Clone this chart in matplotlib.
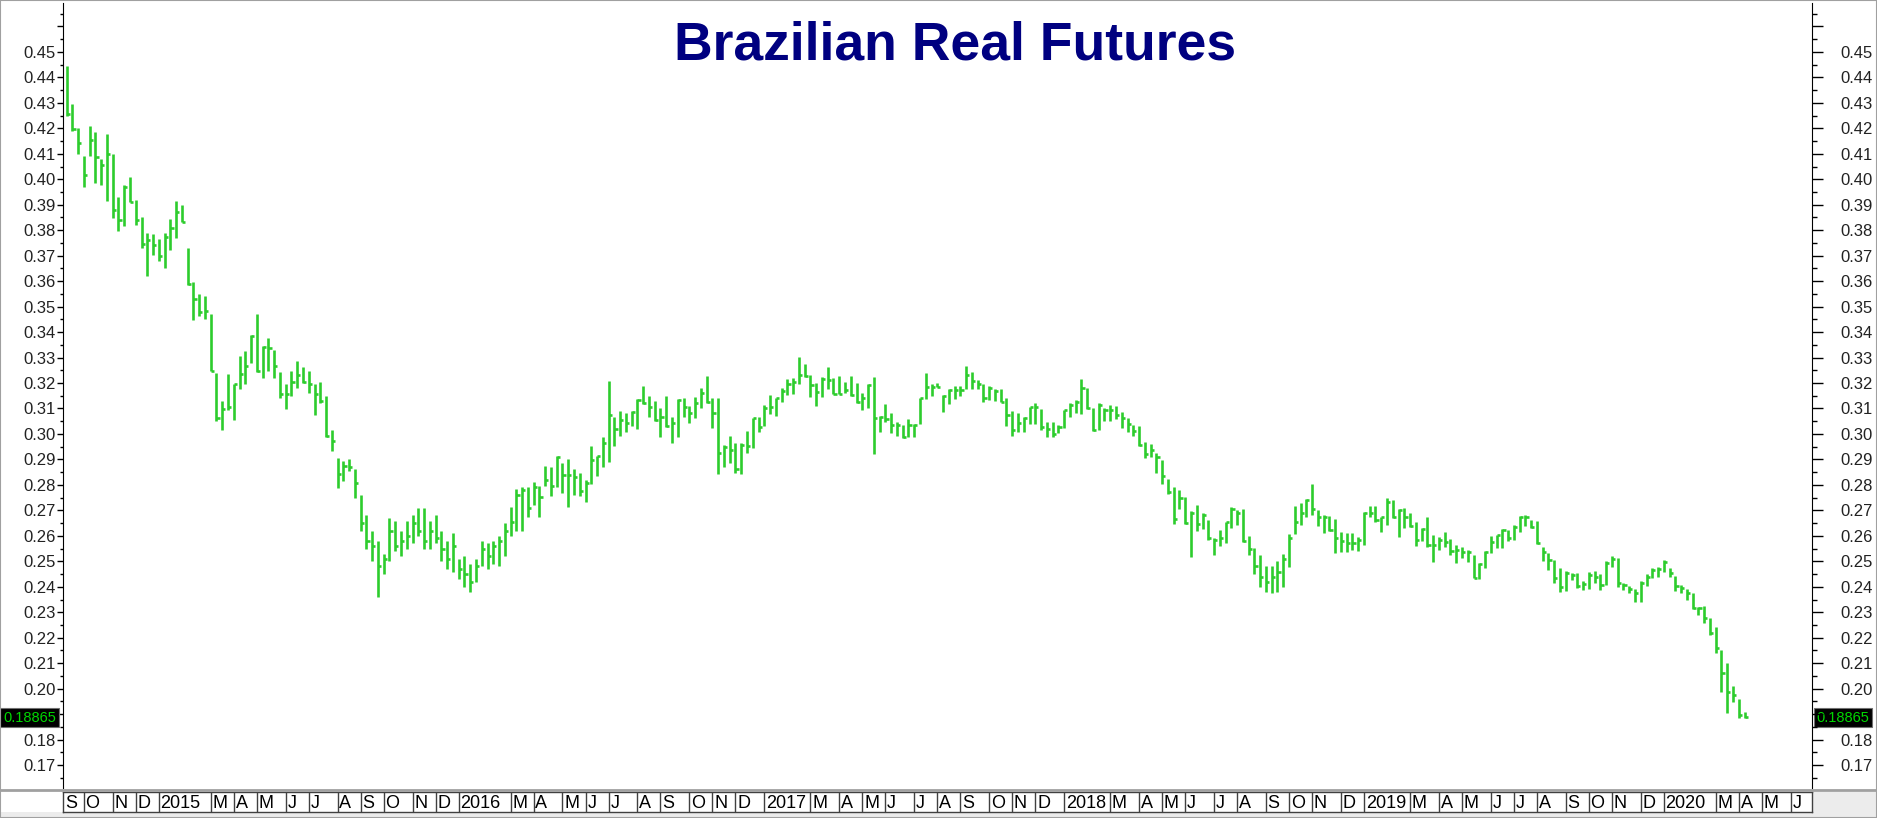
import numpy as np
import pandas as pd
import matplotlib
matplotlib.use("Agg")
import matplotlib.pyplot as plt
from matplotlib.patches import Rectangle
from matplotlib.lines import Line2D
from matplotlib.ticker import FixedLocator, FuncFormatter

plt.rcParams['font.family'] = ['Liberation Sans', 'DejaVu Sans']

# weekly bars, dated by the Friday that ends the week
first_week = '2014-09-12'
last_price = 0.18865
title = 'Brazilian Real Futures'

high = [
    .4446, .4297, .4202, .4092, .4209, .4185, .4081, .4179, .4101, .3929,
    .3979, .4010, .3920, .3851, .3789, .3784, .3764, .3789, .3842, .3914,
    .3897, .3730, .3598, .3548, .3542, .3470, .3240, .3129, .3234, .3195,
    .3305, .3325, .3390, .3470, .3344, .3377, .3331, .3243, .3197, .3247,
    .3286, .3262, .3247, .3197, .3204, .3149, .3016, .2904, .2895, .2902,
    .2863, .2762, .268, .262, .258, .253, .267, .266, .262, .266,
    .268, .271, .271, .266, .268, .262, .258, .261, .251, .252,
    .249, .251, .258, .257, .258, .260, .265, .2714, .2783, .2793,
    .2793, .2813, .2797, .2876, .2869, .2915, .2887, .2900, .2861, .2845,
    .2819, .2954, .2915, .2989, .3209, .3068, .3092, .3084, .3092, .3136,
    .3190, .3150, .3131, .3103, .3150, .3068, .3137, .3140, .3110, .3144,
    .3179, .3228, .3143, .3143, .2957, .2993, .2963, .2963, .3012, .3061,
    .3068, .3114, .3153, .3143, .3179, .3215, .3219, .3304, .3274, .3232,
    .3199, .3225, .3264, .3219, .3228, .3205, .3228, .3199, .3162, .3195,
    .3225, .3072, .3116, .3084, .3048, .3035, .3057, .3041, .3140, .3240,
    .3198, .3201, .3153, .3175, .3189, .3189, .3266, .3244, .3211, .3196,
    .3188, .3175, .3175, .3140, .3090, .3081, .3068, .3107, .3120, .3098,
    .3045, .3045, .3035, .3096, .3120, .3133, .3214, .3179, .3100, .3120,
    .3100, .3113, .3109, .3087, .3061, .3037, .3032, .2969, .2959, .2927,
    .2897, .2825, .2790, .2779, .2751, .2698, .2723, .2690, .2662, .2590,
    .2622, .2655, .2714, .2701, .2707, .2599, .2554, .2525, .2480, .2480,
    .2500, .2530, .2609, .2717, .2727, .2743, .2802, .2701, .2682, .2679,
    .2665, .2616, .2610, .2610, .2597, .2692, .2717, .2717, .2675, .2747,
    .2741, .2704, .2708, .2691, .2656, .2630, .2673, .2603, .2597, .2614,
    .2586, .2564, .2555, .2544, .2525, .2492, .2540, .2599, .2603, .2626,
    .2623, .2643, .2679, .2682, .2662, .2658, .2555, .2534, .2505, .2472,
    .2463, .2455, .2455, .2424, .2459, .2463, .2450, .2503, .2521, .2512,
    .2413, .2403, .2390, .2424, .2450, .2475, .2479, .2505, .2472, .2444,
    .2407, .2390, .2377, .2322, .2324, .2276, .2241, .2152, .2102, .2010,
    .1959, .1907,
]
low = [
    .4250, .4189, .4101, .3968, .4092, .3984, .3979, .3914, .3847, .3797,
    .3816, .3912, .3819, .3730, .3621, .3702, .3678, .3652, .3721, .3769,
    .3834, .3585, .3446, .3464, .3451, .3247, .3051, .3016, .3093, .3054,
    .3175, .3195, .3279, .3243, .3221, .3249, .3221, .3142, .3099, .3151,
    .3181, .3201, .3162, .3074, .3123, .2990, .2934, .2787, .2817, .2856,
    .2748, .2620, .255, .250, .236, .245, .250, .254, .252, .255,
    .257, .260, .255, .255, .257, .250, .247, .246, .243, .240,
    .238, .242, .248, .247, .249, .248, .252, .2600, .2620, .2620,
    .2673, .2721, .2673, .2796, .2756, .2793, .2769, .2712, .2760, .2756,
    .2731, .2803, .2836, .2869, .2891, .2953, .2992, .3006, .3031, .3018,
    .3118, .3068, .3052, .2989, .3029, .2963, .2989, .3068, .3042, .3061,
    .3101, .3123, .3022, .2841, .2872, .2887, .2848, .2841, .2927, .2944,
    .3009, .3031, .3078, .3071, .3127, .3153, .3156, .3195, .3225, .3147,
    .3111, .3147, .3175, .3156, .3156, .3162, .3150, .3120, .3094, .3101,
    .2920, .3006, .3046, .3005, .2992, .2985, .2989, .2989, .3041, .3137,
    .3149, .3183, .3085, .3116, .3137, .3149, .3175, .3175, .3176, .3124,
    .3133, .3130, .3126, .3031, .2992, .3009, .3006, .3041, .3041, .3015,
    .2989, .2989, .3002, .3022, .3067, .3083, .3077, .3098, .3013, .3015,
    .3052, .3052, .3057, .3024, .3009, .2993, .2954, .2904, .2908, .2848,
    .2802, .2766, .2648, .2707, .2648, .2518, .2620, .2625, .2583, .2524,
    .2561, .2570, .2629, .2642, .2577, .2524, .2450, .2400, .2380, .2375,
    .2380, .2400, .2478, .2609, .2642, .2675, .2681, .2638, .2610, .2619,
    .2531, .2535, .2535, .2544, .2542, .2564, .2675, .2656, .2614, .2643,
    .2669, .2597, .2630, .2636, .2560, .2581, .2558, .2499, .2544, .2558,
    .2525, .2492, .2512, .2499, .2433, .2429, .2472, .2531, .2554, .2551,
    .2581, .2584, .2614, .2639, .2630, .2568, .2502, .2466, .2413, .2381,
    .2385, .2426, .2394, .2387, .2390, .2413, .2387, .2407, .2479, .2400,
    .2387, .2374, .2341, .2341, .2403, .2433, .2440, .2459, .2440, .2385,
    .2374, .2348, .2311, .2289, .2256, .2211, .2139, .1988, .1905, .1949,
    .1883, .1883,
]
close = [
    .4258, .4196, .4143, .4016, .4154, .4089, .4055, .4098, .3880, .3841,
    .3968, .3912, .3841, .3747, .3763, .3743, .3698, .3773, .3810, .3871,
    .3834, .3589, .3529, .3478, .3483, .3249, .3064, .3099, .3106, .3195,
    .3236, .3266, .3383, .3247, .3340, .3338, .3266, .3158, .3155, .3204,
    .3230, .3204, .3197, .3155, .3129, .2993, .2973, .2843, .2876, .2869,
    .2807, .2650, .258, .256, .248, .251, .262, .256, .258, .260,
    .265, .262, .258, .262, .259, .255, .251, .256, .247, .245,
    .242, .248, .255, .252, .256, .258, .262, .2653, .2760, .2780,
    .2708, .2790, .2754, .2819, .2796, .2911, .2839, .2839, .2830, .2777,
    .2806, .2898, .2913, .2963, .3074, .3019, .3055, .3044, .3088, .3133,
    .3123, .3107, .3055, .3068, .3031, .3042, .3133, .3105, .3084, .3120,
    .3160, .3127, .3084, .2924, .2948, .2937, .2862, .2957, .2954, .3061,
    .3026, .3101, .3107, .3143, .3170, .3196, .3203, .3232, .3228, .3192,
    .3164, .3215, .3212, .3157, .3157, .3173, .3153, .3124, .3140, .3192,
    .3061, .3068, .3057, .3035, .3035, .2989, .3035, .3035, .3140, .3183,
    .3185, .3185, .3149, .3172, .3172, .3172, .3231, .3209, .3198, .3140,
    .3179, .3170, .3126, .3074, .3015, .3044, .3064, .3104, .3107, .3028,
    .3018, .2999, .3028, .3094, .3113, .3126, .3179, .3100, .3015, .3113,
    .3094, .3094, .3074, .3061, .3041, .3013, .2956, .2923, .2937, .2910,
    .2834, .2773, .2668, .2747, .2652, .2690, .2648, .2681, .2590, .2583,
    .2590, .2655, .2707, .2688, .2580, .2550, .2480, .2440, .2420, .2440,
    .2460, .2510, .2590, .2655, .2688, .2740, .2707, .2675, .2675, .2623,
    .2590, .2581, .2573, .2573, .2584, .2691, .2691, .2662, .2675, .2734,
    .2675, .2702, .2675, .2639, .2584, .2627, .2564, .2564, .2584, .2577,
    .2542, .2544, .2538, .2538, .2436, .2489, .2538, .2577, .2603, .2623,
    .2590, .2636, .2673, .2673, .2636, .2571, .2538, .2505, .2433, .2400,
    .2455, .2446, .2403, .2411, .2446, .2440, .2407, .2495, .2508, .2413,
    .2407, .2390, .2374, .2413, .2440, .2466, .2470, .2499, .2453, .2404,
    .2394, .2374, .2315, .2315, .2276, .2220, .2158, .2060, .1988, .1975,
    .1896, .1890,
]

month_letters = ['J', 'F', 'M', 'A', 'M', 'J', 'J', 'A', 'S', 'O', 'N', 'D']

W, H = 1877, 818
fig = plt.figure(figsize=(W / 100, H / 100), dpi=100)


def px_box(l, t, r, b):
    return [l / W, 1 - b / H, (r - l) / W, (b - t) / H]


green = '#2dcc2d'
ax = fig.add_axes(px_box(63, 3, 1812, 788))
x = np.arange(len(close))
ax.vlines(x, low, high, color=green, lw=1.9)
ax.hlines(close, x, x + 0.55, color=green, lw=1.9)
ax.set_xlim(-0.62, 302.7)
ax.set_ylim(0.161, 0.4692)
ax.set_xticks([])

major = np.round(np.arange(0.17, 0.4601, 0.01), 3)
minor = np.round(np.arange(0.165, 0.4651, 0.01), 3)
# no label above 0.45, and none where the price flag sits
fmt = FuncFormatter(lambda v, p: f'{v:.2f}' if v < 0.455 and abs(v - 0.19) > 0.001 else '')

ax2 = ax.twinx()
ax2.set_ylim(ax.get_ylim())
for a in (ax, ax2):
    a.yaxis.set_major_locator(FixedLocator(major))
    a.yaxis.set_minor_locator(FixedLocator(minor))
    a.yaxis.set_major_formatter(fmt)
    for s in ('top', 'bottom'):
        a.spines[s].set_visible(False)
ax.spines['right'].set_visible(False)
ax2.spines['left'].set_visible(False)
ax.tick_params(axis='y', which='major', direction='out', length=4.5, width=1,
               labelsize=12, pad=0.5, labelcolor='#222222')
ax.tick_params(axis='y', which='minor', direction='out', length=2.4, width=1)
ax2.tick_params(axis='y', which='major', direction='out', length=8, width=1,
                labelsize=12, pad=12.5, labelcolor='#222222')
ax2.tick_params(axis='y', which='minor', direction='out', length=3.6, width=1)

# price flag on both axes
for xp in (29.5, 1843):
    ax.annotate(f'{last_price:.5f}', xy=(xp, last_price),
                xycoords=('figure pixels', 'data'), ha='center', va='center',
                fontsize=10.5, color='#00d800', annotation_clip=False,
                bbox=dict(boxstyle='square,pad=0.18', fc='black', ec='#707070', lw=0.8))

# month strip
dates = pd.date_range(first_week, '2020-07-31', freq='W-FRI')
month_starts = pd.date_range('2014-09-01', '2020-06-01', freq='MS')
axs = fig.add_axes(px_box(63, 792, 1812, 812))
axs.set_xlim(ax.get_xlim())
axs.set_ylim(0, 1)
axs.set_xticks([])
axs.set_yticks([])
for s in axs.spines.values():
    s.set_color('#404040')
    s.set_linewidth(1)
for m in month_starts:
    if m.month == 2:
        continue
    i = int(np.argmax(dates >= m))
    if m == month_starts[0]:
        edge = ax.get_xlim()[0]
    else:
        edge = i
        axs.axvline(edge, color='#404040', lw=1)
    lab = str(m.year) if m.month == 1 else month_letters[m.month - 1]
    axs.text(edge + 0.3, 0.45, lab, ha='left', va='center', fontsize=13,
             family=['Liberation Sans Narrow', 'Liberation Sans'], color='black')

# frame pieces
fig.patches.append(Rectangle((1812 / W, 0), (W - 1812) / W, (H - 792) / H,
                             transform=fig.transFigure, fc='#ececec', ec='none', zorder=-1))
fig.patches.append(Rectangle((0, 0), 1, (H - 812) / H,
                             transform=fig.transFigure, fc='#ececec', ec='none', zorder=-1))
fig.lines.append(Line2D([0, 1], [1 - 790 / H] * 2, transform=fig.transFigure,
                        color='#a0a0a0', lw=2))
fig.patches.append(Rectangle((0, 0), 1, 1, transform=fig.transFigure,
                             fill=False, ec='#a0a0a0', lw=1.5))

fig.text(955 / W, 1 - 60 / H, title, ha='center', va='baseline',
         fontsize=38.5, fontweight='bold', color='#000080')

fig.savefig('out.png', dpi=100)
